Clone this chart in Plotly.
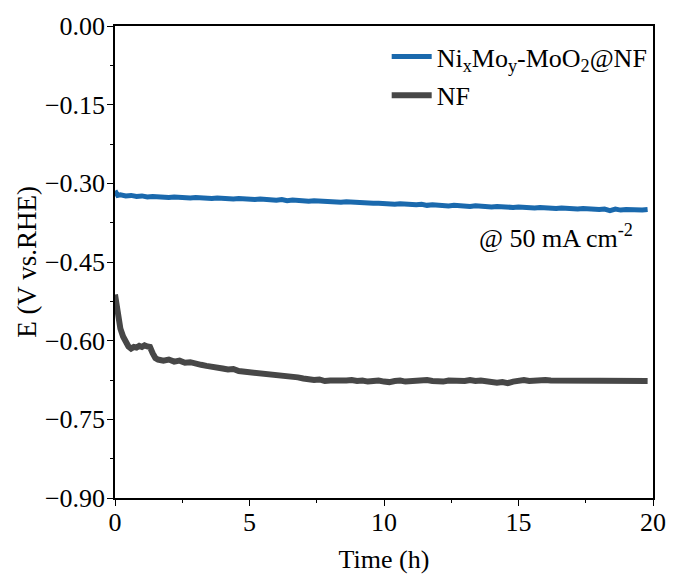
import plotly.graph_objects as go

# ---- data ----
nf_time = [0, 0.04, 0.08, 0.12, 0.16, 0.2, 0.3, 0.4, 0.5, 0.6, 0.7, 0.8, 0.9, 1.0, 1.1, 1.2, 1.3, 1.4, 1.5,
           1.6, 1.8, 2.0, 2.2, 2.4, 2.6, 2.8, 3.0, 3.2, 3.4, 3.6, 3.8, 4.0, 4.2, 4.4, 4.6, 4.8, 5.0,
           5.2, 5.4, 5.6, 5.8, 6.0, 6.2, 6.4, 6.6, 6.8, 7.0, 7.2, 7.4, 7.6, 7.8, 8.0, 8.2, 8.4, 8.6, 8.8,
           9.0, 9.2, 9.4, 9.6, 9.8, 10.0, 10.2, 10.4, 10.6, 10.8, 11.0, 11.2, 11.4, 11.6, 11.8, 12.0,
           12.2, 12.4, 12.6, 12.8, 13.0, 13.2, 13.4, 13.6, 13.8, 14.0, 14.2, 14.4, 14.6, 14.8, 15.0,
           15.2, 15.4, 15.6, 15.8, 16.0, 16.2, 16.4, 16.6, 16.8, 17.0, 17.2, 17.4, 17.6, 17.8, 18.0,
           18.2, 18.4, 18.6, 18.8, 19.0, 19.2, 19.4, 19.6, 19.8]
nf_e = [-0.512, -0.530, -0.545, -0.558, -0.568, -0.577, -0.592, -0.603, -0.611, -0.615, -0.612, -0.613,
        -0.610, -0.612, -0.609, -0.611, -0.612, -0.624, -0.633,
        -0.636, -0.638, -0.636, -0.640, -0.638, -0.642, -0.641, -0.645, -0.646, -0.648, -0.649, -0.652,
        -0.653, -0.655, -0.654, -0.658, -0.659, -0.660, -0.661, -0.663, -0.662, -0.665, -0.666, -0.667,
        -0.666, -0.669, -0.670, -0.672, -0.674, -0.675, -0.674, -0.677, -0.676, -0.676, -0.678, -0.676,
        -0.675, -0.677, -0.676, -0.678, -0.677, -0.676, -0.678, -0.679, -0.677, -0.676, -0.678, -0.677,
        -0.676, -0.677, -0.675, -0.677, -0.678, -0.678, -0.676, -0.677, -0.676, -0.677, -0.675, -0.677,
        -0.676, -0.678, -0.678, -0.680, -0.679, -0.681, -0.678, -0.677, -0.675, -0.677, -0.676, -0.677,
        -0.675, -0.676, -0.676, -0.677, -0.675, -0.676, -0.675, -0.677, -0.676, -0.676, -0.675, -0.677,
        -0.676, -0.677, -0.677, -0.676, -0.675, -0.677, -0.676, -0.677]

ni_time = [0, 0.05, 0.1, 0.2, 0.4, 0.6, 0.8, 1.0, 1.2, 1.4, 1.6, 1.8, 2.0, 2.2, 2.4, 2.6, 2.8, 3.0, 3.2,
           3.4, 3.6, 3.8, 4.0, 4.2, 4.4, 4.6, 4.8, 5.0, 5.2, 5.4, 5.6, 5.8, 6.0, 6.2, 6.4, 6.6, 6.8, 7.0,
           7.2, 7.4, 7.6, 7.8, 8.0, 8.2, 8.4, 8.6, 8.8, 9.0, 9.2, 9.4, 9.6, 9.8, 10.0, 10.2, 10.4, 10.6,
           10.8, 11.0, 11.2, 11.4, 11.6, 11.8, 12.0, 12.2, 12.4, 12.6, 12.8, 13.0, 13.2, 13.4, 13.6, 13.8,
           14.0, 14.2, 14.4, 14.6, 14.8, 15.0, 15.2, 15.4, 15.6, 15.8, 16.0, 16.2, 16.4, 16.6, 16.8, 17.0,
           17.2, 17.4, 17.6, 17.8, 18.0, 18.2, 18.4, 18.6, 18.8, 19.0, 19.2, 19.4, 19.6, 19.8]
ni_e = [-0.314, -0.318, -0.323, -0.322, -0.324, -0.323, -0.325, -0.324, -0.326, -0.325, -0.326, -0.326,
        -0.327, -0.326, -0.327, -0.327, -0.328, -0.327, -0.328, -0.328, -0.329, -0.328, -0.329, -0.329,
        -0.330, -0.329, -0.330, -0.330, -0.331, -0.330, -0.331, -0.331, -0.332, -0.331, -0.333, -0.332,
        -0.333, -0.332, -0.334, -0.333, -0.334, -0.334, -0.336, -0.335, -0.336, -0.335, -0.336, -0.335,
        -0.337, -0.337, -0.338, -0.338, -0.339, -0.338, -0.340, -0.339, -0.340, -0.340, -0.341, -0.340,
        -0.342, -0.341, -0.342, -0.341, -0.343, -0.342, -0.343, -0.342, -0.344, -0.343, -0.344, -0.343,
        -0.345, -0.344, -0.345, -0.344, -0.346, -0.345, -0.346, -0.345, -0.347, -0.346, -0.347, -0.346,
        -0.348, -0.347, -0.348, -0.347, -0.349, -0.348, -0.349, -0.348, -0.350, -0.349, -0.352, -0.349,
        -0.351, -0.350, -0.351, -0.350, -0.351, -0.350]

name_ni = "Ni<sub>x</sub>Mo<sub>y</sub>-MoO<sub>2</sub>@NF"
name_nf = "NF"
annot_text = "@ 50 mA cm<sup>-2</sup>"

FONT = "Liberation Serif"
FS = 26

fig = go.Figure()
fig.add_trace(go.Scatter(x=ni_time, y=ni_e, mode="lines", name=name_ni,
                         line=dict(color="#1a69ad", width=5), legendgroup="a"))
fig.add_trace(go.Scatter(x=nf_time, y=nf_e, mode="lines", name=name_nf,
                         line=dict(color="#474747", width=6), legendgroup="b"))

fig.add_annotation(text=annot_text, xref="paper", yref="paper", x=0.672, y=0.553,
                   xanchor="left", yanchor="middle", showarrow=False,
                   font=dict(family=FONT, size=FS, color="black"))

axis_common = dict(showline=True, linecolor="black", linewidth=1.5, mirror=True,
                   ticks="outside", ticklen=6, tickwidth=1.2, tickcolor="black",
                   showgrid=False, zeroline=False,
                   tickfont=dict(family=FONT, size=FS, color="black"))

fig.update_layout(
    width=678, height=581,
    margin=dict(l=115, r=16, t=25, b=81),
    plot_bgcolor="white", paper_bgcolor="white",
    font=dict(family=FONT, size=FS, color="black"),
    xaxis=dict(range=[0, 20], dtick=5, tick0=0, ticklabelstandoff=-6,
               title=dict(text="Time (h)", font=dict(family=FONT, size=FS), standoff=14),
               minor=dict(dtick=2.5, ticklen=3, ticks="outside", tickcolor="black"),
               **axis_common),
    yaxis=dict(range=[-0.9, 0], dtick=0.15, tick0=0, tickformat=".2f", ticklabelstandoff=-3,
               title=dict(text="E (V vs.RHE)", font=dict(family=FONT, size=27), standoff=0),
               minor=dict(dtick=0.075, ticklen=3, ticks="outside", tickcolor="black"),
               **axis_common),
    legend=dict(x=0.505, y=0.985, xanchor="left", yanchor="top",
                bgcolor="rgba(0,0,0,0)", borderwidth=0,
                font=dict(family=FONT, size=FS, color="black"),
                tracegroupgap=2, itemwidth=40),
    showlegend=True,
)

fig.write_html("out.html")
